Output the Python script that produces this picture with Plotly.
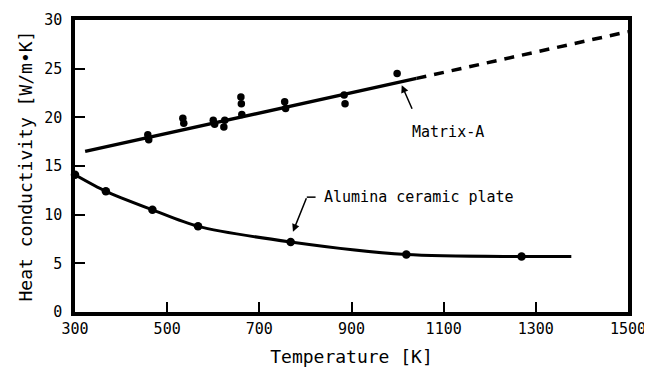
import plotly.graph_objects as go

# Data
matrix_T = [458, 460, 534, 536, 600, 603, 623, 625, 660, 661, 662, 755, 757, 884, 886, 999]
matrix_k = [18.2, 17.7, 19.9, 19.4, 19.7, 19.3, 19.0, 19.7, 22.1, 21.4, 20.3, 21.6, 20.9, 22.3, 21.4, 24.5]
matrix_fit_T = [322, 1041]
matrix_fit_k = [16.5, 24.0]
matrix_ext_T = [1041, 1500]
matrix_ext_k = [24.0, 28.8]

alumina_T = [300, 367, 468, 567, 768, 1019, 1269]
alumina_k = [14.1, 12.4, 10.5, 8.8, 7.2, 5.9, 5.7]
alumina_curve_T = [300, 367, 468, 567, 768, 1019, 1269, 1377]
alumina_curve_k = [14.1, 12.4, 10.5, 8.8, 7.2, 5.9, 5.7, 5.7]

x_ticks = [300, 500, 700, 900, 1100, 1300, 1500]
y_ticks = [0, 5, 10, 15, 20, 25, 30]

FONT = "DejaVu Sans Mono"

fig = go.Figure()
fig.add_trace(go.Scatter(x=matrix_fit_T, y=matrix_fit_k, mode="lines",
                         line=dict(color="black", width=3.5), showlegend=False))
fig.add_trace(go.Scatter(x=matrix_ext_T, y=matrix_ext_k, mode="lines",
                         line=dict(color="black", width=3.5, dash="10px,8px"), showlegend=False))
fig.add_trace(go.Scatter(x=matrix_T, y=matrix_k, mode="markers",
                         marker=dict(color="black", size=7.5), showlegend=False))
fig.add_trace(go.Scatter(x=alumina_curve_T, y=alumina_curve_k, mode="lines",
                         line=dict(color="black", width=3, shape="spline", smoothing=0.8),
                         showlegend=False))
fig.add_trace(go.Scatter(x=alumina_T, y=alumina_k, mode="markers",
                         marker=dict(color="black", size=8.5), showlegend=False, cliponaxis=False))

fig.add_annotation(x=1009, y=23.3, xref="x", yref="y", ax=11, ay=25,
                   showarrow=True, arrowhead=2, arrowsize=1, arrowwidth=1.5,
                   arrowcolor="black", text="")
fig.add_annotation(x=1109, y=18.5, xref="x", yref="y", text="Matrix-A",
                   showarrow=False, font=dict(family=FONT, size=15, color="black"))
fig.add_annotation(x=773, y=8.25, xref="x", yref="y", ax=14, ay=-35,
                   showarrow=True, arrowhead=2, arrowsize=1, arrowwidth=1.5,
                   arrowcolor="black", text="")
fig.add_shape(type="line", x0=803, x1=822, y0=11.8, y1=11.8, xref="x", yref="y",
              line=dict(color="black", width=1.5))
fig.add_annotation(x=836, y=11.8, xref="x", yref="y", text="Alumina ceramic plate",
                   xanchor="left", showarrow=False,
                   font=dict(family=FONT, size=15, color="black"))

# page body has an 8px margin, so the figure is sized to fit the window
fig.update_layout(
    width=644, height=359,
    margin=dict(l=67, r=24, t=12, b=55),
    paper_bgcolor="white", plot_bgcolor="white",
    font=dict(family=FONT, size=15, color="black"),
    xaxis=dict(range=[300, 1500], tickvals=x_ticks, ticktext=[str(v) for v in x_ticks],
               ticks="inside", ticklen=10, tickwidth=2, tickcolor="black",
               showline=True, linewidth=3.5, linecolor="black", mirror=True,
               showgrid=False, zeroline=False, automargin=False,
               title=dict(text="Temperature [K]", standoff=15)),
    yaxis=dict(range=[0, 30], tickvals=y_ticks, ticktext=[str(v) for v in y_ticks],
               ticks="inside", ticklen=10, tickwidth=2, tickcolor="black",
               showline=True, linewidth=3.5, linecolor="black", mirror=True,
               showgrid=False, zeroline=False, ticklabelstandoff=6, automargin=False,
               title=dict(text="Heat conductivity [W/m\u2022K]", standoff=8)),
)

fig.write_html("out.html")
